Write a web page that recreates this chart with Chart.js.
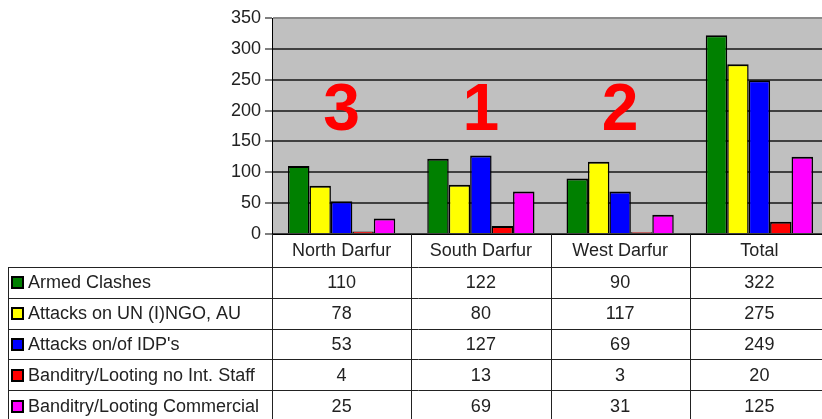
<!DOCTYPE html>
<html>
<head>
<meta charset="utf-8">
<script src="https://cdn.jsdelivr.net/npm/chart.js@4/dist/chart.umd.min.js"></script>
<style>
html,body{margin:0;padding:0;overflow:hidden;background:#fff;}
canvas{display:block;}
</style>
</head>
<body>
<canvas id="c" width="830" height="419"></canvas>
<script>
// ---- data ----
const categories = ['North Darfur', 'South Darfur', 'West Darfur', 'Total'];
const seriesNames = ['Armed Clashes', 'Attacks on UN (I)NGO, AU', "Attacks on/of IDP's", 'Banditry/Looting no Int. Staff', 'Banditry/Looting Commercial'];
const armedClashes = [110, 122, 90, 322];
const attacksUN = [78, 80, 117, 275];
const attacksIDP = [53, 127, 69, 249];
const banditryNoIntStaff = [4, 13, 3, 20];
const banditryCommercial = [25, 69, 31, 125];
const rankLabels = ['3', '1', '2', ''];
const yTicks = [0, 50, 100, 150, 200, 250, 300, 350];

const seriesValues = [armedClashes, attacksUN, attacksIDP, banditryNoIntStaff, banditryCommercial];
const seriesColors = ['#008000', '#FFFF00', '#0000FF', '#FF0000', '#FF00FF'];

const FONT = '"Liberation Sans", Arial, sans-serif';

const tablePlugin = {
  id: 'tablePlugin',
  beforeDraw(chart) {
    const {ctx, chartArea: a} = chart;
    ctx.save();
    ctx.fillStyle = '#C0C0C0';
    ctx.fillRect(a.left, a.top, a.right - a.left, a.bottom - a.top);
    ctx.restore();
  },
  afterDatasetsDraw(chart) {
    const {ctx, scales} = chart;
    const x = scales.x, y = scales.y;
    ctx.save();
    ctx.fillStyle = '#FF0000';
    ctx.font = 'bold 66px ' + FONT;
    ctx.textAlign = 'center';
    ctx.textBaseline = 'middle';
    rankLabels.forEach((r, i) => {
      if (r) ctx.fillText(r, x.getPixelForValue(i), y.getPixelForValue(205) + 4);
    });
    ctx.restore();
  },
  afterDraw(chart) {
    const {ctx, chartArea: a, scales} = chart;
    const x = scales.x;
    const colW = (a.right - a.left) / categories.length;
    const headerBottom = 267;
    const rowH = 30.8;
    const tableLeft = 8;
    const bottom = 440;
    ctx.save();
    ctx.strokeStyle = '#222';
    ctx.lineWidth = 1;
    ctx.beginPath();
    for (let r = 0; r <= seriesNames.length; r++) {
      const yy = Math.round(headerBottom + r * rowH) + 0.5;
      ctx.moveTo(tableLeft, yy);
      ctx.lineTo(a.right, yy);
    }
    ctx.moveTo(tableLeft + 0.5, headerBottom);
    ctx.lineTo(tableLeft + 0.5, bottom);
    for (let c = 0; c <= categories.length; c++) {
      const xx = Math.round(a.left + c * colW) + 0.5;
      ctx.moveTo(xx, a.bottom);
      ctx.lineTo(xx, bottom);
    }
    ctx.stroke();

    ctx.fillStyle = '#222';
    ctx.font = '18px ' + FONT;
    ctx.textBaseline = 'middle';
    ctx.textAlign = 'center';
    categories.forEach((c, i) => {
      ctx.fillText(c, x.getPixelForValue(i), (a.bottom + headerBottom) / 2 + 1);
    });
    seriesNames.forEach((name, r) => {
      const cy = headerBottom + r * rowH + rowH / 2 + 1;
      ctx.fillStyle = '#000';
      ctx.fillRect(11, Math.round(cy - 7), 13, 13);
      ctx.fillStyle = seriesColors[r];
      ctx.fillRect(13, Math.round(cy - 5), 9, 9);
      ctx.fillStyle = '#222';
      ctx.textAlign = 'left';
      ctx.fillText(name, 28, cy);
      ctx.textAlign = 'center';
      seriesValues[r].forEach((v, i) => {
        ctx.fillText(String(v), x.getPixelForValue(i), cy);
      });
    });
    ctx.restore();
  }
};

new Chart(document.getElementById('c'), {
  type: 'bar',
  data: {
    labels: categories,
    datasets: seriesNames.map((n, i) => ({
      label: n,
      data: seriesValues[i],
      backgroundColor: seriesColors[i],
      borderColor: '#000',
      borderWidth: {top: 2, left: 1.5, right: 1.5, bottom: 0},
      borderSkipped: 'bottom',
      categoryPercentage: 0.77,
      barPercentage: 1.0
    }))
  },
  options: {
    responsive: false,
    animation: false,
    devicePixelRatio: 1,
    layout: {padding: {top: 18, right: 1, left: 0, bottom: 0}},
    plugins: {legend: {display: false}, tooltip: {enabled: false}},
    scales: {
      x: {
        grid: {display: false},
        border: {display: true, color: '#000', width: 1},
        ticks: {display: false},
        afterFit(s) { s.height = 185; }
      },
      y: {
        min: 0, max: 350,
        afterBuildTicks(s) { s.ticks = yTicks.map(v => ({value: v})); },
        ticks: {font: {size: 18, family: FONT}, color: '#222', padding: 4},
        grid: {
          color: (c) => c.tick && c.tick.value === 350 ? '#8a8a8a' : '#404040',
          lineWidth: 2,
          tickLength: 7,
          tickColor: '#000',
          tickWidth: 1
        },
        border: {display: true, color: '#000', width: 1},
        afterFit(s) { s.width = 272; }
      }
    }
  },
  plugins: [tablePlugin]
});
</script>
</body>
</html>
